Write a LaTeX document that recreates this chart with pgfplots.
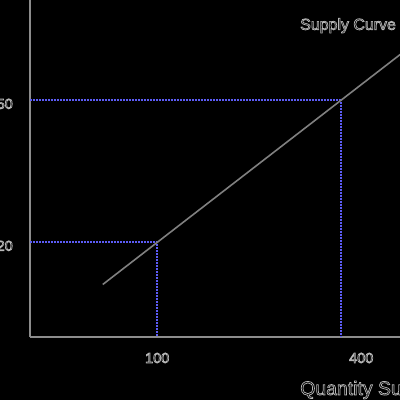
\documentclass[border=0pt]{standalone}
\usepackage{fontspec}
\setmainfont{Liberation Sans}
\usepackage{pgfplots}
\pgfplotsset{compat=1.18}
\definecolor{txt}{rgb}{0.72,0.72,0.72}
\definecolor{axl}{rgb}{0.55,0.55,0.55}
\definecolor{sline}{rgb}{0.5,0.5,0.5}
\definecolor{guide}{rgb}{0.36,0.36,0.96}
\newcommand\outl[1]{\special{pdf:code q 1 Tr 0.7 w}#1\special{pdf:code Q}}
\begin{document}
\begin{tikzpicture}
\path[use as bounding box] (-30bp,-63bp) rectangle (370bp,337bp);
\clip (-30bp,-63bp) rectangle (370bp,337bp);
\fill[black] (-30bp,-63bp) rectangle (370bp,337bp);
\begin{axis}[
  scale only axis, width=370bp, height=337bp,
  xmin=-87, xmax=457, ymin=0, ymax=71.2,
  axis lines=left, axis line style={axl, line width=2.6bp, -},
  xtick={100,400}, ytick={20,50},
  major tick length=0,
  tick label style={font=\fontsize{14.5}{17}\selectfont, text=txt, inner sep=0pt},
  xticklabel style={anchor=center, yshift=-21bp},
  yticklabel style={anchor=east, xshift=-17bp, yshift=-3.5bp},
  xticklabel={\outl{\pgfmathprintnumber{\tick}}},
  yticklabel={\outl{\pgfmathprintnumber{\tick}}},
  /pgf/number format/assume math mode=true,
  xlabel={\outl{Quantity Supplied}},
  xlabel style={font=\fontsize{19.5}{22}\selectfont, text=txt, anchor=base west, inner sep=0pt, at={(axis description cs:0.730,-0.172)}},
  clip=true,
]
\addplot[guide, line width=2bp, dash pattern=on 2bp off 1bp] coordinates {(-87,20) (100,20) (100,0)};
\addplot[guide, line width=2bp, dash pattern=on 2bp off 1bp] coordinates {(-87,50) (370,50) (370,0)};
\addplot[sline, line width=1.6bp] coordinates {(20,11.1) (470,61.1)};
\node[anchor=base west, inner sep=0pt, text=txt, font=\fontsize{16}{19}\selectfont] at (axis cs:310,64.9) {\outl{Supply Curve}};
\end{axis}
\end{tikzpicture}
\end{document}
